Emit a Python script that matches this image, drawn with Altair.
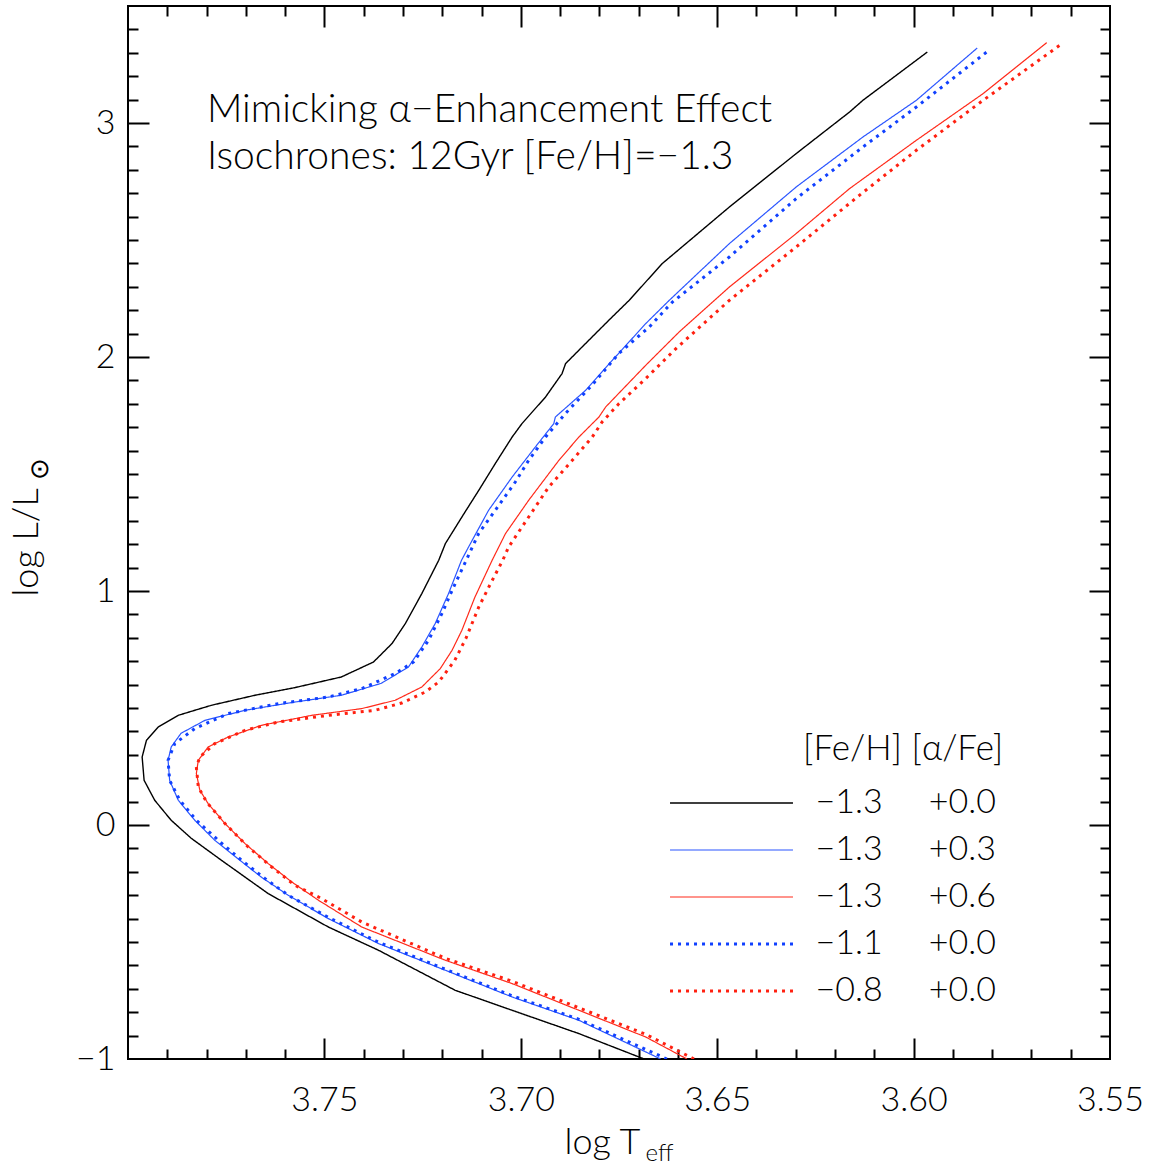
import altair as alt
import pandas as pd

FONT = "Lato"
W = 300
NB = "\u00a0"
ZW = "\u200b"

# ---- series identity ----
feh = ["−1.3", "−1.3", "−1.3", "−1.1", "−0.8"]
afe = ["+0.0", "+0.3", "+0.6", "+0.0", "+0.0"]
colors = ["#000000", "#2a55ff", "#ff2a1a", "#1040ff", "#ff2010"]
dashes = [[1, 0], [1, 0], [1, 0], [3, 5], [3, 5]]
widths = [1.4, 1.2, 1.2, 3.0, 3.0]

# ---- isochrone points (log Teff, log L/Lsun) ----
teff0 = [3.6686, 3.6852, 3.7022, 3.7167, 3.7362, 3.7490, 3.7643, 3.7762, 3.7839, 3.7890,
         3.7932, 3.7959, 3.7964, 3.7953, 3.7923, 3.7872, 3.7788, 3.7677, 3.7575, 3.7457,
         3.7375, 3.7328, 3.7294, 3.7252, 3.7209, 3.7192, 3.7150, 3.7107, 3.7065, 3.7022,
         3.6997, 3.6937, 3.6895, 3.6886, 3.6844, 3.6776, 3.6724, 3.6640, 3.6469, 3.6299,
         3.6163, 3.6129, 3.5965]
lum0 = [-1.0, -0.8915, -0.7919, -0.7064, -0.5355, -0.4359, -0.2932, -0.1509, -0.0568, 0.0201,
        0.1056, 0.1910, 0.2906, 0.3620, 0.4188, 0.4688, 0.5115, 0.5543, 0.5872, 0.6325,
        0.6966, 0.7752, 0.8607, 0.9889, 1.1312, 1.2026, 1.3162, 1.4303, 1.5444, 1.6581,
        1.7154, 1.8291, 1.9291, 1.9718, 2.0427, 2.1568, 2.2423, 2.3991, 2.6410, 2.8692,
        3.0470, 3.0970, 3.3034]

teff1 = [3.6644, 3.6852, 3.7022, 3.7192, 3.7362, 3.7490, 3.7592, 3.7661, 3.7715, 3.7779,
         3.7830, 3.7872, 3.7894, 3.7898, 3.7890, 3.7865, 3.7804, 3.7702, 3.7575, 3.7457,
         3.7355, 3.7286, 3.7252, 3.7218, 3.7184, 3.7151, 3.7133, 3.7082, 3.7022, 3.6963,
         3.6916, 3.6912, 3.6835, 3.6767, 3.6682, 3.6622, 3.6469, 3.6299, 3.6129, 3.5993,
         3.5838]
lum1 = [-1.0, -0.8346, -0.7350, -0.6209, -0.5068, -0.4000, -0.3004, -0.2222, -0.1509, -0.0654,
        0.0201, 0.1056, 0.1910, 0.2765, 0.3333, 0.3919, 0.4474, 0.4902, 0.5256, 0.5543,
        0.6056, 0.6752, 0.7607, 0.8607, 0.9889, 1.1312, 1.1880, 1.3449, 1.4872, 1.6154,
        1.7154, 1.7436, 1.8577, 1.9859, 2.1427, 2.2423, 2.4846, 2.7265, 2.9402, 3.0970,
        3.3205]

teff2 = [3.6577, 3.6682, 3.6852, 3.7022, 3.7192, 3.7405, 3.7515, 3.7583, 3.7643, 3.7702,
         3.7753, 3.7796, 3.7817, 3.7826, 3.7821, 3.7796, 3.7745, 3.7660, 3.7532, 3.7405,
         3.7320, 3.7252, 3.7205, 3.7175, 3.7150, 3.7117, 3.7073, 3.7039, 3.6980, 3.6903,
         3.6852, 3.6801, 3.6784, 3.6682, 3.6597, 3.6469, 3.6299, 3.6163, 3.5993, 3.5823,
         3.5661]
lum2 = [-1.0, -0.9060, -0.7919, -0.6778, -0.5782, -0.4359, -0.3218, -0.2436, -0.1650, -0.0795,
        0.0060, 0.0915, 0.1483, 0.2197, 0.2765, 0.3333, 0.3761, 0.4261, 0.4688, 0.4974,
        0.5329, 0.5897, 0.6684, 0.7466, 0.8321, 0.9731, 1.1312, 1.2453, 1.3876, 1.5585,
        1.6581, 1.7436, 1.7863, 1.9645, 2.1068, 2.2991, 2.5274, 2.7197, 2.9261, 3.1256,
        3.3436]

teff3 = [3.6628, 3.6852, 3.7022, 3.7192, 3.7362, 3.7490, 3.7592, 3.7651, 3.7711, 3.7770,
         3.7826, 3.7868, 3.7894, 3.7898, 3.7881, 3.7830, 3.7745, 3.7617, 3.7490, 3.7405,
         3.7320, 3.7273, 3.7235, 3.7201, 3.7171, 3.7141, 3.7107, 3.7065, 3.7014, 3.6980,
         3.6937, 3.6886, 3.6819, 3.6750, 3.6673, 3.6614, 3.6469, 3.6299, 3.6129, 3.5993,
         3.5806]
lum3 = [-1.0, -0.8303, -0.7299, -0.6167, -0.5013, -0.3944, -0.3004, -0.2291, -0.1509, -0.0654,
        0.0201, 0.1056, 0.1910, 0.2765, 0.3479, 0.4120, 0.4761, 0.5188, 0.5470, 0.5829,
        0.6470, 0.6966, 0.7893, 0.9034, 1.0171, 1.1239, 1.2466, 1.3449, 1.4658, 1.5585,
        1.6581, 1.7594, 1.8791, 2.0158, 2.1282, 2.2350, 2.4274, 2.6769, 2.8974, 3.0684,
        3.3137]

teff4 = [3.6559, 3.6682, 3.6852, 3.7022, 3.7192, 3.7405, 3.7507, 3.7575, 3.7634, 3.7694,
         3.7753, 3.7800, 3.7821, 3.7826, 3.7817, 3.7779, 3.7702, 3.7617, 3.7490, 3.7371,
         3.7303, 3.7243, 3.7209, 3.7168, 3.7140, 3.7107, 3.7077, 3.7046, 3.7031, 3.6980,
         3.6929, 3.6869, 3.6818, 3.6793, 3.6750, 3.6682, 3.6605, 3.6469, 3.6299, 3.6138,
         3.5993, 3.5823, 3.5628]
lum4 = [-1.0, -0.8944, -0.7812, -0.6679, -0.5697, -0.4145, -0.3145, -0.2577, -0.1795, -0.0940,
        0.0060, 0.0983, 0.1624, 0.2479, 0.2906, 0.3479, 0.4047, 0.4402, 0.4688, 0.4902,
        0.5214, 0.5684, 0.6111, 0.7038, 0.7966, 0.9316, 1.0316, 1.1312, 1.1880, 1.3162,
        1.4444, 1.5585, 1.6581, 1.7222, 1.8009, 1.9077, 2.0359, 2.2423, 2.4701, 2.6910,
        2.8833, 3.0970, 3.3321]

# ---- axis ticks ----
x_labels = [3.75, 3.70, 3.65, 3.60, 3.55]
x_major = [3.75, 3.70, 3.65, 3.60]
x_minor = [3.79, 3.78, 3.77, 3.76, 3.74, 3.73, 3.72, 3.71, 3.69, 3.68, 3.67, 3.66,
           3.64, 3.63, 3.62, 3.61, 3.59, 3.58, 3.57, 3.56]
y_labels = [-1, 0, 1, 2, 3]
y_major = [0, 1, 2, 3]
y_minor = [-0.9, -0.8, -0.7, -0.6, -0.5, -0.4, -0.3, -0.2, -0.1,
           0.1, 0.2, 0.3, 0.4, 0.5, 0.6, 0.7, 0.8, 0.9,
           1.1, 1.2, 1.3, 1.4, 1.5, 1.6, 1.7, 1.8, 1.9,
           2.1, 2.2, 2.3, 2.4, 2.5, 2.6, 2.7, 2.8, 2.9,
           3.1, 3.2, 3.3, 3.4]

annotation = ["Mimicking α−Enhancement Effect", "Isochrones: 12Gyr [Fe/H]=−1.3"]
legend_title = "[Fe/H] [α/Fe]"

labels = [f + NB * 5 + a for f, a in zip(feh, afe)]
curves = [(teff0, lum0), (teff1, lum1), (teff2, lum2), (teff3, lum3), (teff4, lum4)]
rows = []
for lab, (tt, ll) in zip(labels, curves):
    assert len(tt) == len(ll)
    for i, (t, l) in enumerate(zip(tt, ll)):
        rows.append({"series": lab, "idx": i, "teff": t, "lum": l})
df = pd.DataFrame(rows)

xs = alt.Scale(domain=[3.55, 3.80], reverse=True, nice=False, zero=False)
ys = alt.Scale(domain=[-1.0, 3.5], nice=False, zero=False)

TICK = dict(domain=False, grid=False, labels=False, tickColor="black", tickWidth=2)


def tick_axis(orient, values, size, title=None, **kw):
    return alt.Axis(orient=orient, values=values, tickSize=size, offset=-size,
                    title=title, **TICK, **kw)


def make_legend():
    return alt.Legend(
        title=ZW + NB * 14 + legend_title, orient="none",
        legendX=542, legendY=726, padding=0,
        symbolType="M-6,0H6", symbolSize=420, symbolOffset=44.5,
        labelOffset=67, labelFontSize=34, labelFontWeight=W, labelColor="black",
        labelLimit=0, titleLimit=0,
        titleFontSize=35, titleFontWeight=W, titleColor="black",
        rowPadding=13, titlePadding=19)


base = alt.Chart(df)

lines = base.mark_line(clip=True).encode(
    x=alt.X("teff:Q", scale=xs, axis=alt.Axis(
        orient="bottom", values=x_labels, format=".2f", ticks=False, tickSize=0,
        domain=False, grid=False, labelFontSize=34, labelFontWeight=W, labelPadding=24,
        labelFlush=False, labelOverlap=False, labelColor="black",
        title="log T", titleFontSize=36, titleFontWeight=W, titleColor="black",
        titleX=474, titleY=94, titleAlign="center", titleBaseline="alphabetic")),
    y=alt.Y("lum:Q", scale=ys, axis=alt.Axis(
        orient="left", values=y_labels, format="d", ticks=False, tickSize=0,
        domain=False, grid=False, labelFontSize=34, labelFontWeight=W, labelPadding=13,
        labelFlush=False, labelOverlap=False, labelColor="black",
        title="log L/L", titleFontSize=36, titleFontWeight=W, titleColor="black",
        titleAngle=-90, titleX=-91, titleY=536, titleAlign="center",
        titleBaseline="alphabetic")),
    color=alt.Color("series:N", scale=alt.Scale(domain=labels, range=colors),
                    legend=make_legend()),
    strokeDash=alt.StrokeDash("series:N", scale=alt.Scale(domain=labels, range=dashes),
                              legend=make_legend()),
    strokeWidth=alt.StrokeWidth("series:N",
                                scale=alt.Scale(type="ordinal", domain=labels, range=widths),
                                legend=make_legend()),
    order=alt.Order("idx:Q"),
)


def ghost(xaxis, yaxis):
    return base.mark_line(strokeOpacity=0).encode(
        x=alt.X("teff:Q", scale=xs, axis=xaxis),
        y=alt.Y("lum:Q", scale=ys, axis=yaxis),
        detail="series:N",
        order=alt.Order("idx:Q"),
    )


g1 = ghost(tick_axis("bottom", x_major, 21, title="eff", titleFontSize=24,
                     titleFontWeight=W, titleColor="black", titleX=517, titleY=122,
                     titleAlign="left", titleBaseline="alphabetic"),
           tick_axis("left", y_major, 21, title="⊙", titleFontSize=26,
                     titleFontWeight=W, titleColor="black", titleAngle=-90,
                     titleX=-102, titleY=462, titleAlign="center",
                     titleBaseline="alphabetic"))
g2 = ghost(tick_axis("bottom", x_minor, 10), tick_axis("left", y_minor, 10))
g3 = ghost(tick_axis("top", x_major, 21), tick_axis("right", y_major, 21))
g4 = ghost(tick_axis("top", x_minor, 10), tick_axis("right", y_minor, 10))

chart = alt.layer(lines, g1, g2, g3, g4).resolve_axis(
    x="independent", y="independent"
).properties(
    width=982, height=1053,
    title=alt.TitleParams(text=annotation, orient="top", anchor="start", frame="group",
                          baseline="top", offset=-172, dx=79, fontSize=39,
                          fontWeight=W, color="black", lineHeight=47),
    autosize=alt.AutoSizeParams(type="none"),
    padding={"left": 128, "top": 6, "right": 51, "bottom": 110},
    background="white",
).configure(font=FONT).configure_view(stroke="black", strokeWidth=2)

chart.save("out.html", embed_options={"renderer": "svg", "actions": False})
